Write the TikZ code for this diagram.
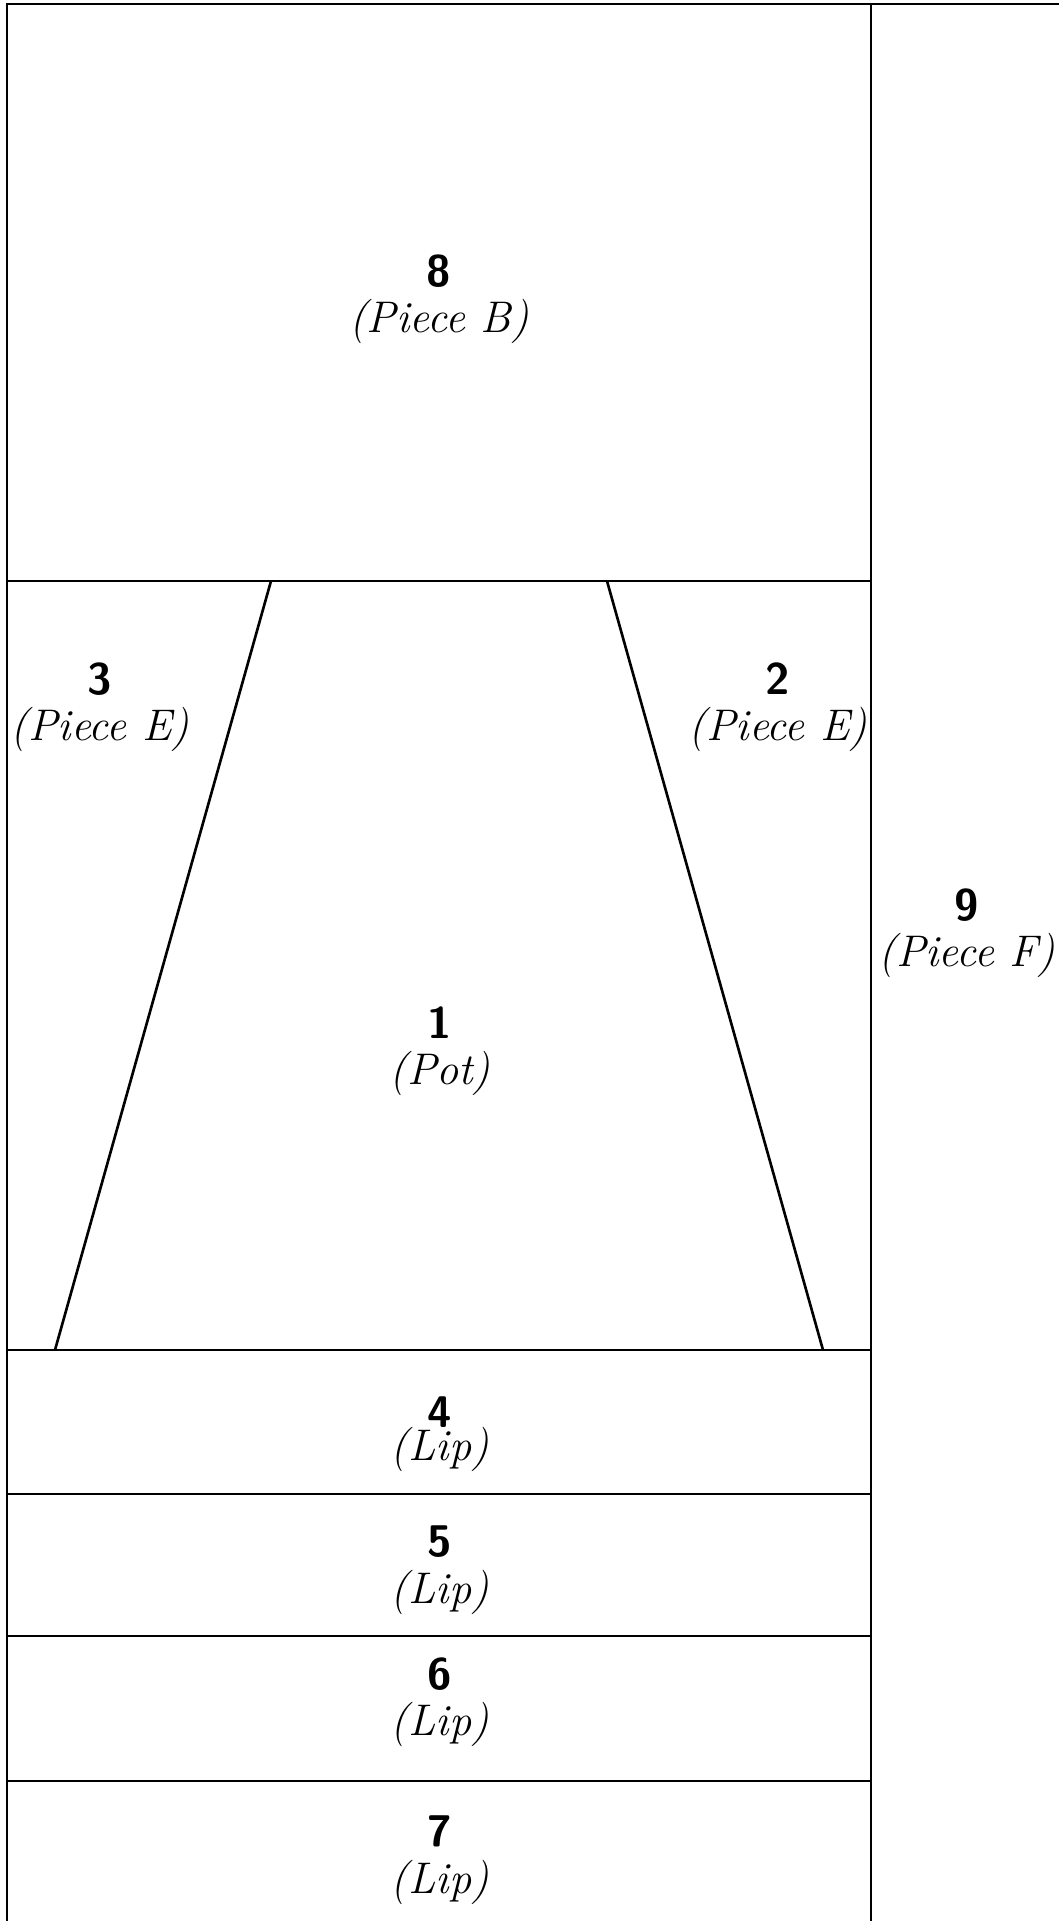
\documentclass[tikz,border=0pt]{standalone}
\begin{document}
\begin{tikzpicture}[x=0.01cm,y=-0.01cm,
    seam/.style={line width=0.75pt},
    lbl/.style={align=center,font=\fontsize{12.6}{13.2}\selectfont}]
    \useasboundingbox (0,0) rectangle (1059,1921);
    % outer edges
    \draw[seam] (7,1921) -- (7,4) -- (1059,4);
    \draw[seam] (871,4) -- (871,1921);
    % cross seams
    \draw[seam] (7,581) -- (871,581);
    \draw[seam] (7,1350) -- (871,1350);
    \draw[seam] (7,1494) -- (871,1494);
    \draw[seam] (7,1636) -- (871,1636);
    \draw[seam] (7,1781) -- (871,1781);
    % pot sides
    \draw[seam] (271,581) -- (55,1350);
    \draw[seam] (607,581) -- (823,1350);
    % labels
    \node[lbl] (p8) at (439,299) {\textsf{\bfseries 8}\\\textit{(Piece B)}};
    \node[lbl] (p3) at (100,707) {\textsf{\bfseries 3}\\\textit{(Piece E)}};
    \node[lbl] (p2) at (778,707) {\textsf{\bfseries 2}\\\textit{(Piece E)}};
    \node[lbl] (p9) at (967,933) {\textsf{\bfseries 9}\\\textit{(Piece F)}};
    \node[lbl] (p1) at (440,1051) {\textsf{\bfseries 1}\\\textit{(Pot)}};
    \node[lbl] (p4) at (440,1434) {\textsf{\bfseries 4}\\[-4pt]\textit{(Lip)}};
    \node[lbl] (p5) at (440,1570) {\textsf{\bfseries 5}\\\textit{(Lip)}};
    \node[lbl] (p6) at (440,1702) {\textsf{\bfseries 6}\\\textit{(Lip)}};
    \node[lbl] (p7) at (440,1860) {\textsf{\bfseries 7}\\\textit{(Lip)}};
\end{tikzpicture}
\end{document}
